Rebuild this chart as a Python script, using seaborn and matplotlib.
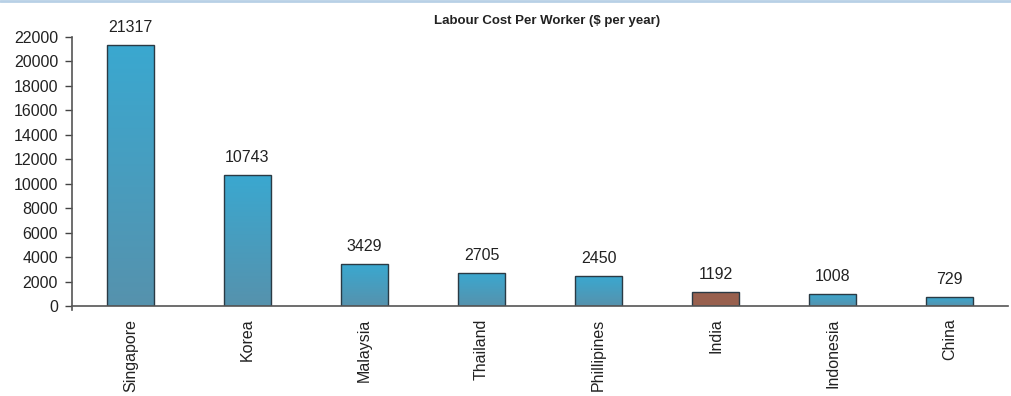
import numpy as np
import pandas as pd
import matplotlib
matplotlib.use("Agg")
import matplotlib.pyplot as plt
import seaborn as sns
from matplotlib.colors import LinearSegmentedColormap

countries = ["Singapore", "Korea", "Malaysia", "Thailand", "Phillipines",
             "India", "Indonesia", "China"]
cost = [21317, 10743, 3429, 2705, 2450, 1192, 1008, 729]
yticks = list(range(0, 22001, 2000))

df = pd.DataFrame({"country": countries, "cost": cost})

sns.set_style("white")
plt.rcParams["font.family"] = ["Liberation Sans", "DejaVu Sans"]

fig = plt.figure(figsize=(10.12, 3.96), dpi=100)
ax = fig.add_axes([0.0711, 0.227, 0.925, 0.68])

sns.barplot(data=df, x="country", y="cost", ax=ax, width=0.4,
            color="#3aa7cf", edgecolor="#2a3a44", linewidth=1.0, saturation=1)

# vertical gradient fill for the blue bars, flat brown for India
grad = LinearSegmentedColormap.from_list("g", ["#5692ad", "#3aa8d0"])
ramp = np.linspace(0, 1, 256).reshape(-1, 1)
for patch, name in zip(ax.patches, countries):
    x0, y0 = patch.get_x(), patch.get_y()
    w, h = patch.get_width(), patch.get_height()
    if name == "India":
        patch.set_facecolor("#98604e")
        continue
    patch.set_facecolor("none")
    im = ax.imshow(ramp, cmap=grad, aspect="auto", origin="lower",
                   extent=(x0, x0 + w, y0, y0 + h), zorder=patch.get_zorder() - 0.1)
    im.set_clip_path(patch)
ax.set_xlim(-0.5, len(countries) - 0.5)
ax.set_ylim(0, 22000)

for i, v in enumerate(cost):
    ax.text(i, v + 800, str(v), ha="center", va="bottom", fontsize=11.5,
            color="#222222")

ax.set_yticks(yticks)
ax.set_yticklabels([str(t) for t in yticks], fontsize=11.5, color="#222222")
ax.set_xticks(np.arange(len(countries)))
ax.set_xticklabels(countries, rotation=90, fontsize=11.5, color="#222222")
ax.set_xticks(np.arange(len(countries) + 1) - 0.5, minor=True)
ax.tick_params(axis="x", which="major", length=0, pad=9)
ax.tick_params(axis="x", which="minor", length=5, width=1, color="#444444",
               direction="out")
ax.tick_params(axis="y", length=5, width=1, color="#444444", direction="out",
               pad=5, left=True)
ax.set_xlabel("")
ax.set_ylabel("")

for s in ["top", "right"]:
    ax.spines[s].set_visible(False)
for s in ["left", "bottom"]:
    ax.spines[s].set_color("#555555")
    ax.spines[s].set_linewidth(1.2)
ax.spines["left"].set_bounds(-300, 22000)

fig.text(0.541, 0.947, "Labour Cost Per Worker ($ per year)", ha="center",
         va="center", fontsize=9.5, fontweight="bold", color="#222222")

# thin light-blue rule along the top edge
fig.add_artist(plt.Line2D([0, 1], [0.997, 0.997], transform=fig.transFigure,
                          color="#b8d0e6", linewidth=2))

fig.savefig("out.png", dpi=100)
